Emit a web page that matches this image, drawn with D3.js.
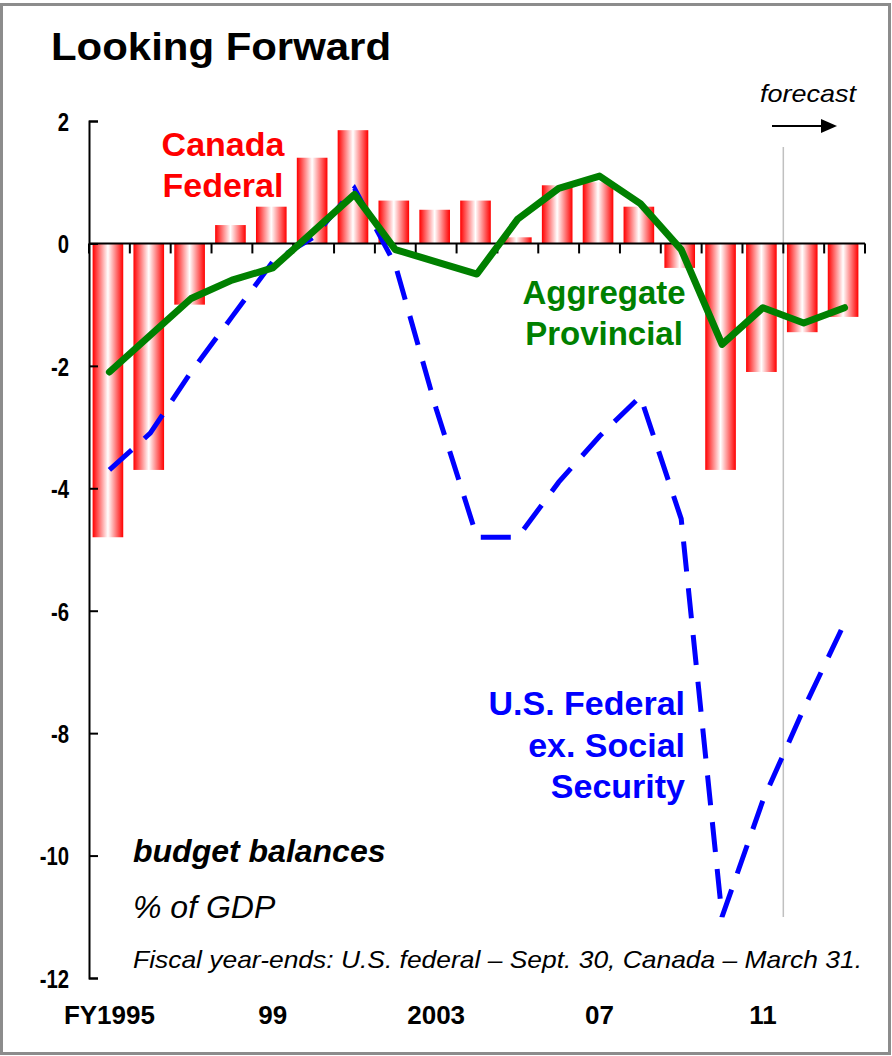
<head>
  <meta charset="utf-8">
  <script src="https://d3js.org/d3.v7.min.js"></script>
  <style>
    body { margin: 0; background: #fff; }
    text { font-family: "Liberation Sans", Arial, sans-serif; }
    .axis path, .axis line { stroke: #000; stroke-width: 2px; }
    .axis text { font-size: 26px; font-weight: bold; fill: #000; }
  </style>
</head>

<body>
  <svg id="chart" width="892" height="1056"></svg>
</body>

<script>
  // fiscal years, FY1995 .. FY2013
  const years = [1995, 1996, 1997, 1998, 1999, 2000, 2001, 2002, 2003, 2004,
    2005, 2006, 2007, 2008, 2009, 2010, 2011, 2012, 2013];
  const yearLabels = { 1995: "FY1995", 1999: "99", 2003: "2003", 2007: "07", 2011: "11" };
  const yTicks = [2, 0, -2, -4, -6, -8, -10, -12];

  // % of GDP
  const canadaFederal = [-4.8, -3.7, -1.0, 0.3, 0.6, 1.4, 1.85, 0.7, 0.55, 0.7,
    0.1, 0.95, 1.0, 0.6, -0.4, -3.7, -2.1, -1.45, -1.2];
  const aggregateProvincial = [-2.1, -1.5, -0.9, -0.6, -0.4, 0.2, 0.8, -0.1, -0.3, -0.5,
    0.4, 0.9, 1.1, 0.65, -0.1, -1.65, -1.05, -1.3, -1.05];
  const usFederalExSS = [-3.7, -3.1, -2.1, -1.2, -0.3, 0.1, 0.9, -0.35, -2.7, -4.8,
    -4.8, -3.9, -3.15, -2.5, -4.5, -11.0, -9.1, -7.6, -6.2];
  const forecastFrom = 2012;

  const svg = d3.select("#chart");

  // frame
  svg.append("rect")
    .attr("x", 1.5).attr("y", 4.5)
    .attr("width", 888).attr("height", 1049)
    .attr("fill", "none")
    .attr("stroke", "#8c8c8c")
    .attr("stroke-width", 3);

  svg.append("text")
    .attr("x", 51).attr("y", 60)
    .attr("textLength", 340).attr("lengthAdjust", "spacingAndGlyphs")
    .style("font-size", "38px").style("font-weight", "bold")
    .text("Looking Forward");

  const x = d3.scaleBand()
    .domain(years)
    .range([89, 865])
    .paddingInner(0.25)
    .paddingOuter(0.125);
  const step = x.step();
  const xc = d => x(d) + x.bandwidth() / 2;
  const xEdge = d => x(d) - step * 0.125;

  const y = d3.scaleLinear().domain([-12, 2]).range([978, 121]);

  const defs = svg.append("defs");
  const grad = defs.append("linearGradient")
    .attr("id", "barGrad")
    .attr("x1", "0%").attr("x2", "100%").attr("y1", "0%").attr("y2", "0%");
  grad.append("stop").attr("offset", "0%").attr("stop-color", "#ff0000");
  grad.append("stop").attr("offset", "50%").attr("stop-color", "#ffffff");
  grad.append("stop").attr("offset", "100%").attr("stop-color", "#ff0000");

  // forecast divider
  svg.append("line")
    .attr("x1", xEdge(forecastFrom)).attr("x2", xEdge(forecastFrom))
    .attr("y1", 147).attr("y2", 917)
    .attr("stroke", "#c0c0c0")
    .attr("stroke-width", 1.5);

  svg.append("text")
    .attr("x", 760).attr("y", 102)
    .attr("textLength", 96).attr("lengthAdjust", "spacingAndGlyphs")
    .style("font-size", "24px").style("font-style", "italic")
    .text("forecast");
  svg.append("line")
    .attr("x1", 772).attr("x2", 823)
    .attr("y1", 126).attr("y2", 126)
    .attr("stroke", "#000").attr("stroke-width", 2);
  svg.append("path")
    .attr("d", "M821,119L837,126L821,133Z")
    .attr("fill", "#000");

  // Canada federal bars
  svg.append("g").selectAll("rect")
    .data(years)
    .join("rect")
    .attr("x", d => x(d) - 1.5)
    .attr("width", x.bandwidth())
    .attr("y", (d, i) => y(Math.max(0, canadaFederal[i])))
    .attr("height", (d, i) => Math.abs(y(canadaFederal[i]) - y(0)))
    .attr("fill", "url(#barGrad)");

  // axes
  const labelSquash = 0.78;
  const yAxis = d3.axisLeft(y)
    .tickValues(yTicks)
    .tickSizeInner(-9)
    .tickSizeOuter(-9)
    .tickPadding(20)
    .tickFormat(d => String(d));
  svg.append("g")
    .attr("class", "axis")
    .attr("transform", "translate(89,0)")
    .call(yAxis)
    .call(g => g.selectAll("text")
      .attr("dy", "0.36em")
      .attr("x", -20 / labelSquash)
      .attr("transform", `scale(${labelSquash},1)`));

  const xAxisG = svg.append("g").attr("class", "axis");
  xAxisG.append("line")
    .attr("x1", x.range()[0]).attr("x2", x.range()[1])
    .attr("y1", y(0)).attr("y2", y(0));
  xAxisG.selectAll("line.tick")
    .data(years.concat([null]))
    .join("line")
    .attr("class", "tick")
    .attr("x1", d => d === null ? x.range()[1] : xEdge(d))
    .attr("x2", d => d === null ? x.range()[1] : xEdge(d))
    .attr("y1", y(0)).attr("y2", y(0) + 10);

  svg.append("g").selectAll("text")
    .data(years.filter(d => yearLabels[d]))
    .join("text")
    .attr("x", d => xc(d))
    .attr("y", 1024)
    .attr("text-anchor", "middle")
    .style("font-size", "26px").style("font-weight", "bold")
    .text(d => yearLabels[d]);

  // lines
  const line = d3.line()
    .x((d, i) => xc(years[i]))
    .y(d => y(d));

  svg.append("path")
    .datum(usFederalExSS)
    .attr("d", line)
    .attr("fill", "none")
    .attr("stroke", "#0000ff")
    .attr("stroke-width", 5)
    .attr("stroke-dasharray", "30,17");

  svg.append("path")
    .datum(aggregateProvincial)
    .attr("d", line)
    .attr("fill", "none")
    .attr("stroke", "#008000")
    .attr("stroke-width", 7)
    .attr("stroke-linejoin", "round")
    .attr("stroke-linecap", "round");

  // series labels
  function label(lines, xPos, y0, dy, anchor, color, size) {
    svg.append("text")
      .attr("text-anchor", anchor)
      .style("font-size", size + "px").style("font-weight", "bold")
      .attr("fill", color)
      .selectAll("tspan")
      .data(lines)
      .join("tspan")
      .attr("x", xPos)
      .attr("y", (d, i) => y0 + i * dy)
      .text(d => d);
  }
  label(["Canada", "Federal"], 223, 156, 41, "middle", "#ff0000", 34);
  label(["Aggregate", "Provincial"], 604, 304, 41, "middle", "#008000", 33);
  label(["U.S. Federal", "ex. Social", "Security"], 685, 715, 41.5, "end", "#0000ff", 34);

  svg.append("text")
    .attr("x", 133).attr("y", 862)
    .style("font-size", "32px").style("font-weight", "bold").style("font-style", "italic")
    .text("budget balances");
  svg.append("text")
    .attr("x", 133).attr("y", 918)
    .style("font-size", "32px").style("font-style", "italic")
    .text("% of GDP");
  svg.append("text")
    .attr("x", 133).attr("y", 968)
    .attr("textLength", 729).attr("lengthAdjust", "spacingAndGlyphs")
    .style("font-size", "24px").style("font-style", "italic")
    .text("Fiscal year-ends: U.S. federal \u2013 Sept. 30, Canada \u2013 March 31.");
</script>
